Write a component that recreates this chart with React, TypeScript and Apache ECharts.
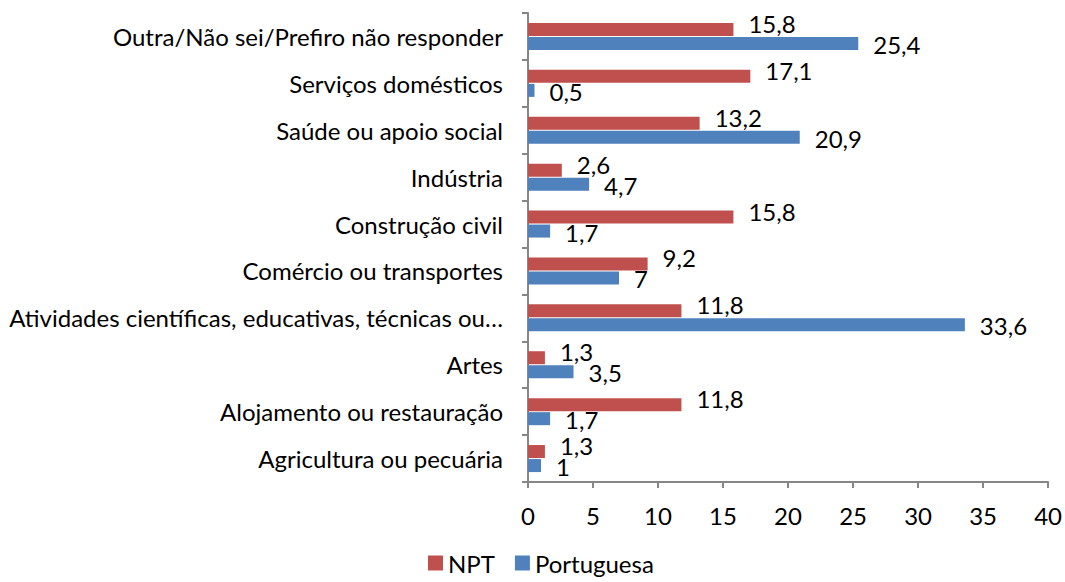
import React, { useEffect, useRef } from "react";
import * as echarts from "echarts";

const categories = [
  "Agricultura ou pecuária",
  "Alojamento ou restauração",
  "Artes",
  "Atividades científicas, educativas, técnicas ou…",
  "Comércio ou transportes",
  "Construção civil",
  "Indústria",
  "Saúde ou apoio social",
  "Serviços domésticos",
  "Outra/Não sei/Prefiro não responder",
];
const nptValues = [1.3, 11.8, 1.3, 11.8, 9.2, 15.8, 2.6, 13.2, 17.1, 15.8];
const portValues = [1, 1.7, 3.5, 33.6, 7, 1.7, 4.7, 20.9, 0.5, 25.4];
const seriesNames = ["NPT", "Portuguesa"];
const xTicks = { min: 0, max: 40, interval: 5 };

const FONT = "Lato";
const FS = 24;
const fmt = (v: number) => String(v).replace(".", ",");

export default function App() {
  const ref = useRef<HTMLDivElement>(null);
  useEffect(() => {
    const chart = echarts.init(ref.current!, null, { renderer: "svg" });
    const labelCfg = (dy: number) => ({
      show: true,
      position: "right" as const,
      distance: 15,
      offset: [0, dy],
      fontFamily: FONT,
      fontSize: FS,
      color: "#000",
      formatter: (p: any) => fmt(p.value),
    });
    chart.setOption({
      animation: false,
      textStyle: { fontFamily: FONT },
      grid: { left: 528, right: 13, top: 13, bottom: 100, containLabel: false },
      legend: {
        data: seriesNames,
        left: 428,
        top: 551,
        padding: 0,
        itemWidth: 15,
        itemHeight: 15,
        itemGap: 20,
        icon: "rect",
        textStyle: { fontFamily: FONT, fontSize: FS, color: "#000" },
      },
      xAxis: {
        type: "value",
        min: xTicks.min,
        max: xTicks.max,
        interval: xTicks.interval,
        axisLine: { show: true, lineStyle: { color: "#868686", width: 2 } },
        axisTick: { show: true, length: 6, lineStyle: { color: "#868686", width: 2 } },
        splitLine: { show: false },
        axisLabel: { fontFamily: FONT, fontSize: FS, color: "#000", margin: 21 },
      },
      yAxis: {
        type: "category",
        data: categories,
        axisLine: { show: true, lineStyle: { color: "#868686", width: 2 } },
        axisTick: { show: true, length: 6, lineStyle: { color: "#868686", width: 2 } },
        axisLabel: { fontFamily: FONT, fontSize: FS, color: "#000", margin: 25 },
      },
      series: [
        {
          name: "NPT",
          type: "bar",
          data: nptValues,
          barWidth: 13,
          barGap: "8%",
          barCategoryGap: "42%",
          itemStyle: { color: "#C0504D" },
          label: labelCfg(-6),
        },
        {
          name: "Portuguesa",
          type: "bar",
          data: portValues,
          barWidth: 13,
          barGap: "8%",
          barCategoryGap: "42%",
          itemStyle: { color: "#4F81BD" },
          label: labelCfg(1),
        },
      ],
    });
    return () => chart.dispose();
  }, []);
  return (
    <div
      ref={ref}
      style={{ position: "fixed", left: 0, top: 0, width: 1065, height: 582, background: "#fff" }}
    />
  );
}
